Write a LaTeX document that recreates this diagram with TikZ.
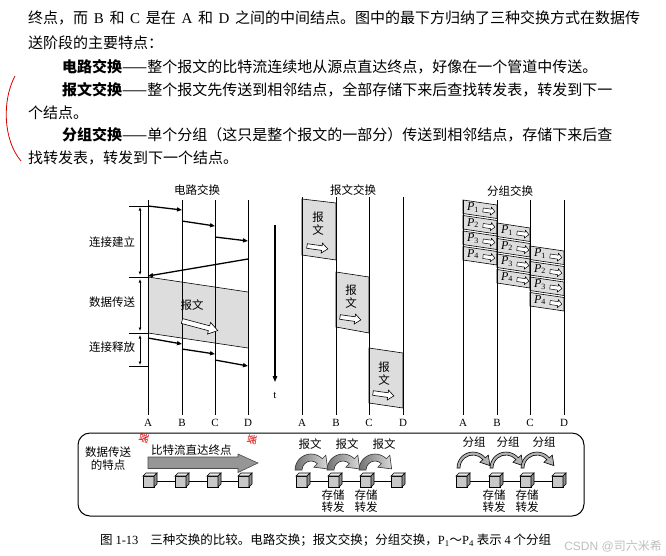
\documentclass[tikz,border=0pt]{standalone}
\usepackage{fontspec}
\setmainfont{Liberation Serif}
\newfontfamily\cjk{Noto Sans CJK SC}
\newfontfamily\latin{Liberation Serif}
\newfontfamily\wmfont{Liberation Sans}
\usetikzlibrary{arrows.meta}
\XeTeXlinebreaklocale "zh"
\XeTeXlinebreakskip=0pt plus 1.5pt
\definecolor{boxgray}{RGB}{221,221,221}
\definecolor{arrgray}{RGB}{150,150,150}
\definecolor{cubefront}{RGB}{200,200,200}
\definecolor{cubetop}{RGB}{235,235,235}
\definecolor{cubeside}{RGB}{140,140,140}
\tikzset{
 lane/.style={line width=0.7pt},
 sig/.style={line width=1.3pt,-{Triangle[length=5pt,width=4pt]}},
 spanarrow/.style={line width=1pt,{Latex[length=3.5pt,width=3pt]}-{Latex[length=3.5pt,width=3pt]}},
 lbl/.style={font=\cjk\fontsize{11.5}{12}\selectfont,inner sep=0pt},
 letter/.style={font=\latin\fontsize{11}{12}\selectfont,inner sep=0pt},
 body/.style={font=\cjk\fontsize{15}{18}\selectfont,inner sep=0pt,anchor=west},
 msgbox/.style={draw,line width=0.6pt,fill=boxgray},
 plabel/.style={font=\latin\fontsize{12}{12}\selectfont,inner sep=0pt},
}
\newcommand{\hollowarrow}[7]{%
 \begin{scope}[shift={(#1,#2)},rotate=#7]
 \draw[fill=white,line width=0.6pt] (0,-#4) -- (#3-#6,-#4) -- (#3-#6,-#5) -- (#3,0) -- (#3-#6,#5) -- (#3-#6,#4) -- (0,#4) -- cycle;
 \end{scope}}
\newcommand{\cubeat}[1]{%
 \filldraw[fill=cubefront, line width=0.6pt] (#1-7,476) rectangle (#1+4,487);
 \filldraw[fill=cubetop, line width=0.6pt] (#1-7,476) -- (#1-4,473) -- (#1+7,473) -- (#1+4,476) -- cycle;
 \filldraw[fill=cubeside, line width=0.6pt] (#1+4,476) -- (#1+7,473) -- (#1+7,484) -- (#1+4,487) -- cycle;}
\newcommand{\thickarc}[2]{%
 \begin{scope}[shift={(#1,#2)}]
 \draw[line width=0.6pt,draw=black!80,left color=black!55,right color=black!15] (180:16) arc[start angle=180,end angle=315,radius=16] -- (315:21) -- (16.6,-1.1) -- (315:4) -- (315:9) arc[start angle=315,end angle=180,radius=9] -- cycle;
 \end{scope}}
\newcommand{\thinarc}[2]{%
 \begin{scope}[shift={(#1,#2)}]
 \draw[line width=0.6pt,fill=black!30] (180:16) arc[start angle=180,end angle=320,radius=16] -- (320:20) -- (16.9,-2.4) -- (320:9) -- (320:13) arc[start angle=320,end angle=180,radius=13] -- cycle;
 \end{scope}}
\begin{document}
\begin{tikzpicture}[x=1pt,y=-1pt]
\useasboundingbox (0,0) rectangle (666,555);
\fill[white] (0,0) rectangle (666,555);

% ---------- body text ----------
\node[body] (l1) at (28,18) {\makebox[612pt][s]{终点，而 {\latin B} 和 {\latin C} 是在 {\latin A} 和 {\latin D} 之间的中间结点。图中的最下方归纳了三种交换方式在数据传}};
\node[body] (l2) at (28,43) {送阶段的主要特点：};
\node[body] (l3) at (62,67) {{\bfseries 电路交换}——整个报文的比特流连续地从源点直达终点，好像在一个管道中传送。};
\node[body] (l4) at (62,90) {\makebox[578pt][s]{{\bfseries 报文交换}——整个报文先传送到相邻结点，全部存储下来后查找转发表，转发到下一}};
\node[body] (l5) at (28,113) {个结点。};
\node[body] (l6) at (62,135) {\makebox[578pt][s]{{\bfseries 分组交换}——单个分组（这只是整个报文的一部分）传送到相邻结点，存储下来后查}};
\node[body] (l7) at (28,158) {找转发表，转发到下一个结点。};
\draw[red!85!black,line width=0.8pt] (15,76) .. controls (2,100) and (3,140) .. (21,161);

% ---------- circuit switching ----------
\node[lbl] (t1) at (197,190) {电路交换};
\fill[boxgray] (148,277) -- (248,292) -- (248,348) -- (148,333) -- cycle;
\draw[line width=0.6pt] (148,277) -- (248,292);
\draw[line width=0.6pt] (148,333) -- (248,348);
\foreach \x/\n in {148/A,182/B,215/C,248/D}{
  \draw[lane] (\x,200) -- (\x,415);
  \node[letter] (c\n) at (\x,423) {\n};
}
\draw[sig] (148,206) -- (182,210);
\draw[sig] (182,221) -- (215,226);
\draw[sig] (215,237) -- (248,241);
\draw[sig] (248,259) -- (148,276);
\draw[sig] (148,338) -- (182,344);
\draw[sig] (182,349) -- (215,354);
\draw[sig] (215,360) -- (248,366);
\foreach \y in {206,277,333,366}{\draw[line width=0.6pt] (129,\y) -- (148,\y);}
\draw[spanarrow] (140,207) -- (140,275);
\draw[spanarrow] (140,279) -- (140,331);
\draw[spanarrow] (140,335) -- (140,365);
\node[lbl] (s1) at (112,242) {连接建立};
\node[lbl] (s2) at (112,302) {数据传送};
\node[lbl] (s3) at (112,347) {连接释放};
\node[lbl] (m0) at (192,305) {报文};
\hollowarrow{182}{321}{37}{2.5}{6}{9}{-15}
\draw[line width=1.2pt,-{Triangle[length=6pt,width=4.5pt]}] (275,225) -- (275,382);
\node[letter] (tt) at (275,395) {t};

% ---------- message switching ----------
\node[lbl] (t2) at (353,190) {报文交换};
\draw[msgbox] (302,199) -- (336,203) -- (336,260) -- (302,255) -- cycle;
\draw[msgbox] (336,272) -- (369,277) -- (369,333) -- (336,327) -- cycle;
\draw[msgbox] (369,348) -- (403,353) -- (403,408) -- (369,403) -- cycle;
\foreach \x/\n in {302/A,336/B,369/C,403/D}{
  \draw[lane] (\x,197) -- (\x,415);
  \node[letter] (m\n) at (\x,423) {\n};
}
\node[lbl] (b1a) at (318,217) {报};
\node[lbl] (b1b) at (318,230) {文};
\hollowarrow{307}{246}{21}{2.3}{5}{6}{-8}
\node[lbl] (b2a) at (351,290) {报};
\node[lbl] (b2b) at (351,303) {文};
\hollowarrow{340}{317}{21}{2.3}{5}{6}{-8}
\node[lbl] (b3a) at (384,367) {报};
\node[lbl] (b3b) at (384,380) {文};
\hollowarrow{373}{393}{21}{2.3}{5}{6}{-8}

% ---------- packet switching ----------
\node[lbl] (t3) at (510,191) {分组交换};
\foreach \k/\xl/\xr in {0/463/497,1/497/530,2/530/564}{
  \foreach \i in {0,...,3}{
    \pgfmathsetmacro\yt{200+23*\k+15.5*\i}
    \pgfmathtruncatemacro\pn{\i+1}
    \draw[msgbox] (\xl,\yt) -- (\xr,\yt+5) -- (\xr,\yt+18.5) -- (\xl,\yt+13.5) -- cycle;
    \node[plabel] (p\k\i) at (\xl+10,\yt+7.5) {\textit{P}\textsubscript{\pn}};
    \begin{scope}[shift={(\xl+20,\yt+10)},rotate=-8]
      \draw[fill=white,line width=0.5pt] (0,-2) -- (8,-2) -- (8,-4) -- (12,0) -- (8,4) -- (8,2) -- (0,2) -- cycle;
    \end{scope}
  }
}
\foreach \x/\n in {463/A,497/B,530/C,564/D}{
  \draw[lane] (\x,200) -- (\x,415);
  \node[letter] (q\n) at (\x,423) {\n};
}

% ---------- bottom summary box ----------
\draw[line width=1pt,rounded corners=12pt] (78,433) rectangle (584,516);
\node[lbl] (f1) at (108,452) {数据传送};
\node[lbl] (f2) at (108,465) {的特点};
\node[lbl,anchor=west] (f3) at (151,450) {比特流直达终点};
\filldraw[fill=arrgray,draw=black!70,line width=0.6pt] (148,457) -- (238,457) -- (238,454) -- (258,463) -- (238,472.5) -- (238,468.5) -- (148,468.5) -- cycle;
\draw[line width=0.7pt] (150,481) -- (245,481);
\foreach \x in {150,182,214,245}{\cubeat{\x}}

\draw[line width=0.7pt] (303,481) -- (398,481);
\foreach \x in {303,335,367,398}{\cubeat{\x}}
\thickarc{311}{470}
\thickarc{343}{470}
\thickarc{375}{470}
\node[lbl] (r1) at (310,444) {报文};
\node[lbl] (r2) at (347,444) {报文};
\node[lbl] (r3) at (384,444) {报文};
\node[lbl] (sa1) at (333,495) {存储};
\node[lbl] (sb1) at (333,507) {转发};
\node[lbl] (sa2) at (366,495) {存储};
\node[lbl] (sb2) at (366,507) {转发};

\draw[line width=0.7pt] (463,481) -- (559,481);
\foreach \x in {463,496,527,559}{\cubeat{\x}}
\thinarc{473}{468}
\thinarc{506}{468}
\thinarc{537}{468}
\node[lbl] (g1) at (474,442) {分组};
\node[lbl] (g2) at (508,442) {分组};
\node[lbl] (g3) at (544,442) {分组};
\node[lbl] (sa3) at (494,495) {存储};
\node[lbl] (sb3) at (494,507) {转发};
\node[lbl] (sa4) at (527,495) {存储};
\node[lbl] (sb4) at (527,507) {转发};

\node[red!85!black,rotate=-15,font=\cjk\fontsize{10}{10}\selectfont] (red1) at (144,438) {端};
\node[red!85!black,rotate=-10,font=\cjk\fontsize{10}{10}\selectfont] (red2) at (252,440) {端};

% ---------- caption ----------
\node[font=\cjk\fontsize{12.5}{13}\selectfont,inner sep=0pt,anchor=west] (cap) at (100,540) {图 {\latin 1-13}\hspace{12pt}三种交换的比较。电路交换；报文交换；分组交换，{\latin P\textsubscript{1}}～{\latin P\textsubscript{4}} 表示 {\latin 4} 个分组};
\node[font=\wmfont\fontsize{12}{12}\selectfont,text=black!25,inner sep=0pt,anchor=east] (wm) at (662,546) {CSDN @{\cjk 司六米希}};
\end{tikzpicture}
\end{document}
